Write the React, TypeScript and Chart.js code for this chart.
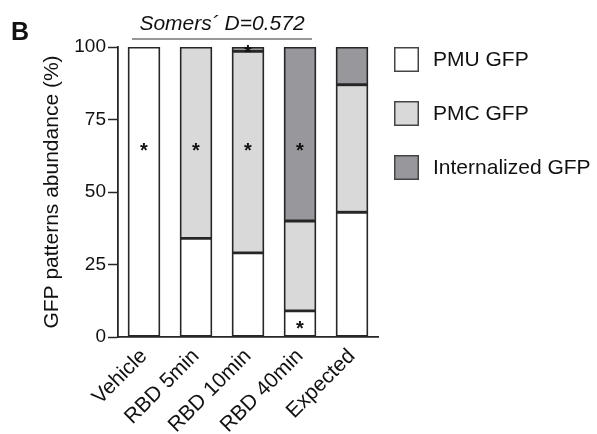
import React, { useEffect, useRef } from 'react';
import { Chart, registerables } from 'chart.js';

Chart.register(...registerables);

// ---- data ----
const categories = ['Vehicle', 'RBD 5min', 'RBD 10min', 'RBD 40min', 'Expected'];
const pmuValues = [100, 34, 29, 9, 43];
const pmcValues = [0, 66, 69.5, 31, 44];
const internalizedValues = [0, 0, 1.5, 60, 13];
const seriesLabels = ['PMU GFP', 'PMC GFP', 'Internalized GFP'];
const yTickValues = [0, 25, 50, 75, 100];
const asteriskCategories = ['Vehicle', 'RBD 5min', 'RBD 10min', 'RBD 40min', 'RBD 10min', 'RBD 40min'];
const asteriskValues = [65.5, 65.5, 65.5, 65.5, 99.3, 4];
const somersText = 'Somers\u00B4 D=0.572';
const somersSpan = ['Vehicle', 'RBD 40min'];
const panelLabel = 'B';
const yTitle = 'GFP patterns abundance (%)';

// ---- styles ----
const FONT = '"Liberation Sans", Arial, Helvetica, sans-serif';
const TEXT = '#111111';
const EDGE = '#262626';
const fills = ['#ffffff', '#d9d9d9', '#98989c'];

const overlayPlugin = {
  id: 'overlay',
  afterDatasetsDraw(chart: any) {
    const { ctx, chartArea, scales } = chart;
    const x = scales.x;
    const y = scales.y;
    ctx.save();

    // asterisks
    ctx.fillStyle = TEXT;
    ctx.font = `bold 20px ${FONT}`;
    ctx.textAlign = 'center';
    ctx.textBaseline = 'alphabetic';
    asteriskCategories.forEach((c, i) => {
      const px = x.getPixelForValue(categories.indexOf(c));
      const py = y.getPixelForValue(asteriskValues[i]);
      ctx.fillText('*', px, py + 10);
    });

    // Somers' D bracket
    const meta = chart.getDatasetMeta(0);
    const a: any = meta.data[categories.indexOf(somersSpan[0])];
    const b: any = meta.data[categories.indexOf(somersSpan[1])];
    const left = a.x - a.width / 2 + 4;
    const right = b.x + b.width / 2 - 4;
    const lineY = chartArea.top - 8;
    ctx.strokeStyle = '#333';
    ctx.lineWidth = 1.2;
    ctx.beginPath();
    ctx.moveTo(left, lineY);
    ctx.lineTo(right, lineY);
    ctx.stroke();
    ctx.font = `italic 21px ${FONT}`;
    ctx.textBaseline = 'alphabetic';
    ctx.fillText(somersText, (left + right) / 2, lineY - 9);

    // panel label
    ctx.font = `bold 25px ${FONT}`;
    ctx.textAlign = 'left';
    ctx.fillText(panelLabel, 11, 40);

    // legend
    const bx = chartArea.right + 16;
    chart.data.datasets.forEach((ds: any, i: number) => {
      const by = chartArea.top + i * 54;
      ctx.fillStyle = ds.backgroundColor;
      ctx.fillRect(bx, by, 25, 25);
      ctx.strokeStyle = '#444';
      ctx.lineWidth = 1.5;
      ctx.strokeRect(bx + 0.75, by + 0.75, 23.5, 23.5);
      ctx.fillStyle = TEXT;
      ctx.font = `21px ${FONT}`;
      ctx.textAlign = 'left';
      ctx.textBaseline = 'middle';
      ctx.fillText(ds.label, bx + 39, by + 13);
    });

    ctx.restore();
  },
};

export default function App() {
  const ref = useRef<HTMLCanvasElement | null>(null);

  useEffect(() => {
    if (!ref.current) return;
    const prevMargin = document.body.style.margin;
    document.body.style.margin = '0';
    const values = [pmuValues, pmcValues, internalizedValues];
    const chart = new Chart(ref.current, {
      type: 'bar',
      data: {
        labels: categories,
        datasets: values.map((v, i) => ({
          label: seriesLabels[i],
          data: v,
          backgroundColor: fills[i],
          borderColor: EDGE,
          borderWidth: 1.8,
          borderSkipped: false,
          barThickness: 32,
        })),
      },
      options: {
        animation: false,
        responsive: true,
        maintainAspectRatio: false,
        layout: { padding: { left: 0, right: 219, top: 47, bottom: 0 } },
        plugins: {
          legend: { display: false },
          tooltip: { enabled: false },
          title: { display: false },
        },
        scales: {
          x: {
            type: 'category',
            stacked: true,
            afterFit: (s: any) => {
              s.height = 97;
            },
            grid: { display: false, drawTicks: false },
            border: { display: true, color: EDGE, width: 1.8 },
            ticks: {
              color: TEXT,
              font: { family: FONT, size: 21 },
              minRotation: 45,
              maxRotation: 45,
              padding: 7,
              autoSkip: false,
            },
          },
          y: {
            type: 'linear',
            stacked: true,
            min: 0,
            max: 100,
            afterFit: (s: any) => {
              s.width = 118;
            },
            afterBuildTicks: (s: any) => {
              s.ticks = yTickValues.map((v) => ({ value: v }));
            },
            grid: {
              display: true,
              drawOnChartArea: false,
              drawTicks: true,
              tickLength: 10,
              tickWidth: 1.5,
              tickColor: EDGE,
            },
            border: { display: true, color: EDGE, width: 1.8 },
            ticks: {
              color: TEXT,
              font: { family: FONT, size: 19 },
              padding: 2,
            },
            title: {
              display: true,
              text: yTitle,
              color: TEXT,
              font: { family: FONT, size: 21 },
              padding: { top: 40, bottom: 0 },
            },
          },
        },
      },
      plugins: [overlayPlugin],
    });
    return () => {
      chart.destroy();
      document.body.style.margin = prevMargin;
    };
  }, []);

  return (
    <div style={{ position: 'relative', width: 597, height: 434 }}>
      <canvas ref={ref} />
    </div>
  );
}
